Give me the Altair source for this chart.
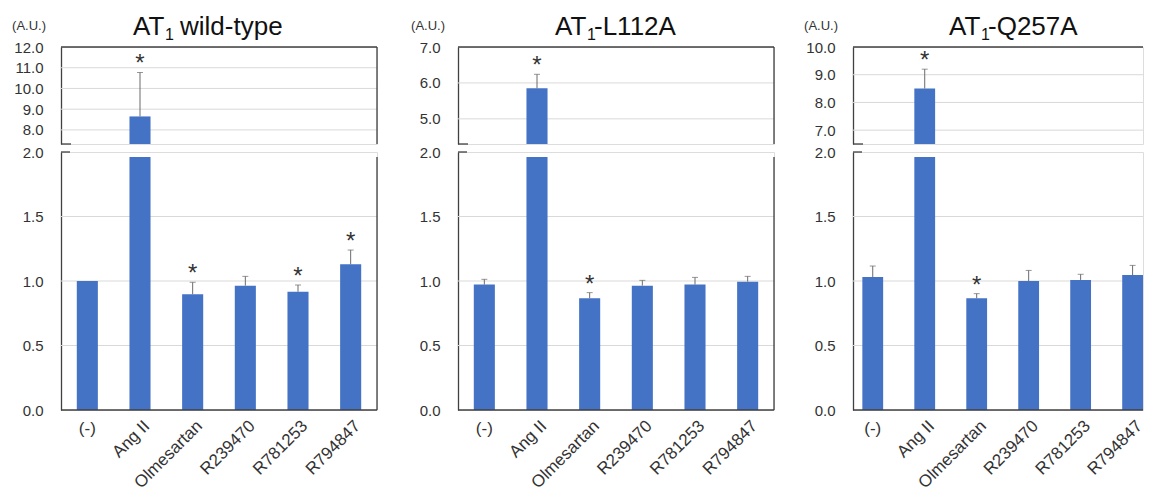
import altair as alt
import pandas as pd

categories = ["(-)", "Ang II", "Olmesartan", "R239470", "R781253", "R794847"]

titles_main = ["AT", "AT", "AT"]
titles_sub = ["1", "1", "1"]
titles_rest = ["wild-type", "-L112A", "-Q257A"]
unit_label = "(A.U.)"

wt_mean = [1.00, 8.65, 0.897, 0.964, 0.917, 1.129]
wt_err = [0.0, 2.12, 0.093, 0.072, 0.052, 0.111]
wt_star = [0, 1, 1, 0, 1, 1]

l112a_mean = [0.972, 5.85, 0.866, 0.964, 0.972, 0.995]
l112a_err = [0.041, 0.39, 0.044, 0.041, 0.056, 0.041]
l112a_star = [0, 1, 1, 0, 0, 0]

q257a_mean = [1.031, 8.50, 0.866, 1.000, 1.008, 1.046]
q257a_err = [0.085, 0.70, 0.036, 0.082, 0.044, 0.075]
q257a_star = [0, 1, 1, 0, 0, 0]

upper_lo = [7.32, 4.30, 6.50]
upper_hi = [12.0, 7.0, 10.0]
upper_ticks = [[8.0, 9.0, 10.0, 11.0, 12.0], [5.0, 6.0, 7.0], [7.0, 8.0, 9.0, 10.0]]
upper_grid = [[8.0, 9.0, 10.0, 11.0], [5.0, 6.0], [7.0, 8.0, 9.0]]
lower_ticks = [0.0, 0.5, 1.0, 1.5, 2.0]
lower_grid = [0.5, 1.0, 1.5]

BLUE = "#4472C4"
FRAME = "#404040"
GRID = "#d9d9d9"
ERR = "#6b6b6b"
TXT = "#333333"
FONT = "Liberation Sans"

HU = 97
HL = 258
widths = [316, 316, 290]
pad_outer = [0.3, 0.3, 0.09]
band_align = [0.5, 0.5, 1.0]
right_border = [True, True, False]
right_pad = [3, 0, 0]
title_x = [72, 97, 96]
rest_dx = [47, 39, 39]
au_x = [-15, -13, -15]

one = pd.DataFrame({"k": [0]})


def panel(i, mean, err, star):
    W = widths[i]
    df = pd.DataFrame({"cat": categories, "mean": mean, "err": err, "star": star})
    df["top"] = df["mean"] + df["err"]
    lo, hi = upper_lo[i], upper_hi[i]

    xscale = alt.Scale(domain=categories, paddingInner=0.6, paddingOuter=pad_outer[i],
                       align=band_align[i])
    x_u = alt.X("cat:N", sort=categories, scale=xscale, axis=None)

    # ---------- upper part ----------
    ys_u = alt.Scale(domain=[lo, hi], zero=False, nice=False)
    ax_u = alt.Axis(values=upper_ticks[i], format=".1f", title=None, ticks=False, grid=False,
                    labelPadding=18, labelFontSize=15, labelColor=TXT, labelFont=FONT,
                    domainColor=FRAME, domainWidth=1.3)
    base_u = alt.Chart(df).transform_filter(f"datum.mean > {lo}")
    grid_u = alt.Chart(pd.DataFrame({"g": upper_grid[i]})).mark_rule(color=GRID, strokeWidth=1).encode(
        y=alt.Y("g:Q", scale=ys_u, axis=ax_u))
    bars_u = base_u.mark_bar(color=BLUE, clip=True).encode(
        x=x_u, y=alt.Y("mean:Q", scale=ys_u, axis=ax_u), y2=alt.datum(lo))
    err_u = base_u.mark_rule(color=ERR, strokeWidth=1).encode(
        x=x_u, y=alt.Y("mean:Q", scale=ys_u, axis=ax_u), y2="top:Q")
    cap_u = base_u.mark_tick(color=ERR, size=6, thickness=1, orient="horizontal").encode(
        x=x_u, y=alt.Y("top:Q", scale=ys_u, axis=ax_u))
    star_u = base_u.transform_filter("datum.star == 1").mark_text(
        text="*", fontSize=24, font=FONT, color=TXT, baseline="alphabetic", dy=-1).encode(
        x=x_u, y=alt.Y("top:Q", scale=ys_u, axis=ax_u))
    frame_top = alt.Chart(one).mark_rule(color=FRAME, strokeWidth=1.3).encode(
        x=alt.value(0), x2=alt.value(W), y=alt.value(0))
    brk_u = alt.Chart(one).mark_rule(color=FRAME, strokeWidth=1.3).encode(
        x=alt.value(0), x2=alt.value(10), y=alt.value(HU))
    tdf = pd.DataFrame({"main": [titles_main[i]], "sub": [titles_sub[i]], "rest": [titles_rest[i]],
                        "unit": [unit_label]})
    t_main = alt.Chart(tdf).mark_text(align="left", baseline="alphabetic", fontSize=26, font=FONT,
                                      color="#111111").encode(
        x=alt.value(title_x[i]), y=alt.value(-12), text="main:N")
    t_sub = alt.Chart(tdf).mark_text(align="left", baseline="alphabetic", fontSize=16, font=FONT,
                                     color="#111111").encode(
        x=alt.value(title_x[i] + 32), y=alt.value(-7), text="sub:N")
    t_rest = alt.Chart(tdf).mark_text(align="left", baseline="alphabetic", fontSize=26, font=FONT,
                                      color="#111111").encode(
        x=alt.value(title_x[i] + rest_dx[i]), y=alt.value(-12), text="rest:N")
    t_unit = alt.Chart(tdf).mark_text(align="right", baseline="alphabetic", fontSize=13, font=FONT,
                                      color=TXT).encode(
        x=alt.value(au_x[i]), y=alt.value(-17), text="unit:N")
    inv_u = alt.Chart(one).mark_rule(opacity=0).encode(
        x=alt.value(-52.5), y=alt.value(-38), y2=alt.value(HU))
    layers_u = [grid_u, bars_u, err_u, cap_u, star_u, frame_top, brk_u, t_main, t_sub, t_rest, t_unit, inv_u]
    if right_border[i]:
        layers_u.append(alt.Chart(one).mark_rule(color=FRAME, strokeWidth=1.3).encode(
            x=alt.value(W), y=alt.value(0), y2=alt.value(HU)))
    if right_pad[i] > 0:
        layers_u.append(alt.Chart(one).mark_rule(opacity=0).encode(
            x=alt.value(W + right_pad[i]), y=alt.value(0), y2=alt.value(HU)))
    upper = alt.layer(*layers_u).properties(width=W, height=HU)

    # ---------- lower part ----------
    ys_l = alt.Scale(domain=[0, 2], zero=True, nice=False)
    ax_l = alt.Axis(values=lower_ticks, format=".1f", title=None, ticks=False, grid=False,
                    labelPadding=18, labelFontSize=15, labelColor=TXT, labelFont=FONT,
                    domainColor=FRAME, domainWidth=1.3)
    ax_x = alt.Axis(title=None, ticks=False, domain=False, labelAngle=-45, labelAlign="right",
                    labelBaseline="middle", labelFontSize=17, labelFont=FONT, labelColor=TXT,
                    labelPadding=13, labelOffset=7,
                    labelExpr="datum.value == '(-)' ? '' : datum.value")
    x_l = alt.X("cat:N", sort=categories, scale=xscale, axis=ax_x)
    base_l = alt.Chart(df)
    small = base_l.transform_filter("datum.mean < 2")
    grid_l = alt.Chart(pd.DataFrame({"g": lower_grid})).mark_rule(color=GRID, strokeWidth=1).encode(
        y=alt.Y("g:Q", scale=ys_l, axis=ax_l))
    bars_l = base_l.transform_calculate(yb="min(datum.mean, 1.962)").mark_bar(color=BLUE, clip=True).encode(
        x=x_l, y=alt.Y("yb:Q", scale=ys_l, axis=ax_l))
    err_l = small.transform_filter("datum.err > 0").mark_rule(color=ERR, strokeWidth=1).encode(
        x=x_l, y=alt.Y("mean:Q", scale=ys_l, axis=ax_l), y2="top:Q")
    cap_l = small.transform_filter("datum.err > 0").mark_tick(
        color=ERR, size=6, thickness=1, orient="horizontal").encode(
        x=x_l, y=alt.Y("top:Q", scale=ys_l, axis=ax_l))
    star_l = small.transform_filter("datum.star == 1").mark_text(
        text="*", fontSize=24, font=FONT, color=TXT, baseline="alphabetic", dy=-1).encode(
        x=x_l, y=alt.Y("top:Q", scale=ys_l, axis=ax_l))
    bottom = alt.Chart(one).mark_rule(color=FRAME, strokeWidth=1.3).encode(
        x=alt.value(0), x2=alt.value(W), y=alt.value(HL))
    brk_l = alt.Chart(one).mark_rule(color=FRAME, strokeWidth=1.3).encode(
        x=alt.value(0), x2=alt.value(9), y=alt.value(0))
    minus_lbl = base_l.transform_filter("datum.cat == '(-)'").mark_text(
        fontSize=17, font=FONT, color=TXT, baseline="top").encode(
        x=x_l, y=alt.value(HL + 11), text="cat:N")
    inv_l = alt.Chart(one).mark_rule(opacity=0).encode(
        x=alt.value(-52.5), y=alt.value(0), y2=alt.value(HL))
    layers_l = [grid_l, bars_l, err_l, cap_l, star_l, bottom, brk_l, minus_lbl, inv_l]
    if right_border[i]:
        layers_l.append(alt.Chart(one).mark_rule(color=FRAME, strokeWidth=1.3).encode(
            x=alt.value(W), y=alt.value(5), y2=alt.value(HL)))
    if right_pad[i] > 0:
        layers_l.append(alt.Chart(one).mark_rule(opacity=0).encode(
            x=alt.value(W + right_pad[i]), y=alt.value(0), y2=alt.value(HL)))
    lower = alt.layer(*layers_l).properties(width=W, height=HL)

    return alt.vconcat(upper, lower, spacing=-2)


p1 = panel(0, wt_mean, wt_err, wt_star)
p2 = panel(1, l112a_mean, l112a_err, l112a_star)
p3 = panel(2, q257a_mean, q257a_err, q257a_star)

chart = alt.hconcat(p1, p2, p3, spacing=24).properties(
    padding={"left": 0, "top": 0, "right": 0, "bottom": 0}
).configure_view(strokeWidth=0).configure(background="white")

chart.save("out.html", embed_options={"renderer": "svg", "actions": False})
